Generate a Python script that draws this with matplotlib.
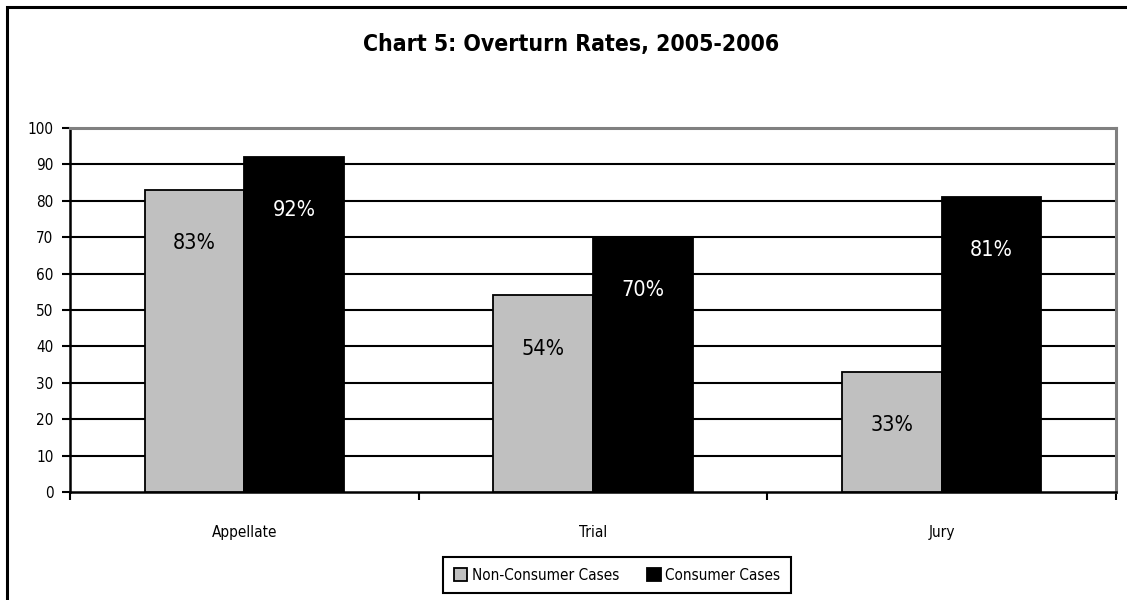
import matplotlib
matplotlib.use('Agg')
import matplotlib.pyplot as plt
import numpy as np
from matplotlib.patches import Rectangle

plt.rcParams['font.family'] = ['DejaVu Sans']
plt.rcParams['font.stretch'] = 'condensed'

# data
categories = ['Appellate', 'Trial', 'Jury']
non_consumer = [83, 54, 33]
consumer = [92, 70, 81]
series_names = ['Non-Consumer Cases', 'Consumer Cases']

fig = plt.figure(figsize=(11.27, 6), dpi=100)
ax = fig.add_axes([70 / 1127, 1 - 492 / 600, (1116 - 70) / 1127, (492 - 128) / 600])

# outer frame of the chart
fig.patches.append(Rectangle((7 / 1127, -0.05), 1.2, 1 - 7 / 600 + 0.05, transform=fig.transFigure,
                             fill=False, edgecolor='black', linewidth=2.2, zorder=0))

x = np.arange(len(categories))
w = 1 / 3.5
ax.bar(x - w / 2, non_consumer, w, color='#c0c0c0', edgecolor='black', linewidth=1.3,
       label=series_names[0], zorder=3)
ax.bar(x + w / 2, consumer, w, color='black', edgecolor='black', linewidth=1.3,
       label=series_names[1], zorder=3)

# label persentase di dalam batang
for i in range(len(categories)):
    ax.text(x[i] - w / 2, non_consumer[i] - 14.6, f'{non_consumer[i]}%', ha='center', va='center',
            fontsize=15.5, color='black', zorder=4)
    ax.text(x[i] + w / 2, consumer[i] - 14.6, f'{consumer[i]}%', ha='center', va='center',
            fontsize=15.5, color='white', zorder=4)

ax.set_xlim(-0.5, 2.5)
ax.set_ylim(0, 100)
ax.set_yticks(range(0, 101, 10))
ax.tick_params(axis='y', labelsize=11, length=6, width=1.5, direction='out', pad=6)
for yv in range(10, 100, 10):
    ax.axhline(yv, color='black', linewidth=1.5, zorder=1)

ax.set_xticks(x)
ax.set_xticklabels(categories)
ax.set_xticks([0.5, 1.5, 2.5, -0.5], minor=True)
ax.tick_params(axis='x', which='major', length=0, labelsize=11, pad=24)
ax.tick_params(axis='x', which='minor', length=6, width=1.5, direction='out')

ax.spines['left'].set_linewidth(1.8)
ax.spines['bottom'].set_linewidth(1.8)
ax.spines['top'].set_color('#808080')
ax.spines['top'].set_linewidth(2.2)
ax.spines['right'].set_color('#808080')
ax.spines['right'].set_linewidth(2.2)

fig.text(571 / 1127, 1 - 45 / 600, 'Chart 5: Overturn Rates, 2005-2006', ha='center', va='center',
         fontsize=16.5, fontweight='bold')

leg = fig.legend(loc='center', bbox_to_anchor=(617 / 1127, 1 - 575 / 600), ncol=2, fontsize=11,
                 frameon=True, fancybox=False, edgecolor='black', framealpha=1,
                 handlelength=0.9, handleheight=0.9,
                 handletextpad=0.3, columnspacing=1.8, borderpad=0.7)
leg.get_frame().set_linewidth(1.5)

plt.savefig('out.png', dpi=100)
